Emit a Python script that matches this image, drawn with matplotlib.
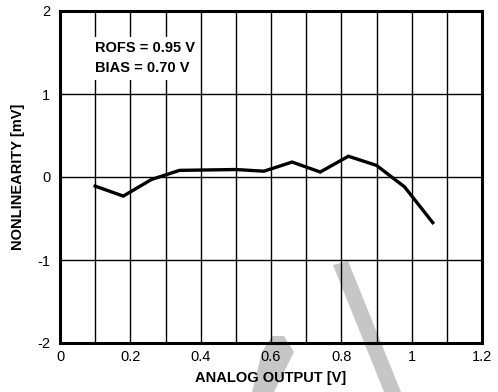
import numpy as np
import matplotlib.pyplot as plt
from matplotlib.patches import Polygon

plt.rcParams['font.family'] = ['Liberation Sans', 'DejaVu Sans']
plt.rcParams['axes.unicode_minus'] = False

# data
analog_out = [0.10, 0.18, 0.26, 0.34, 0.42, 0.50, 0.58, 0.66, 0.74, 0.82, 0.90, 0.98, 1.06]
nonlin_mv = [-0.11, -0.23, -0.03, 0.08, 0.085, 0.09, 0.07, 0.18, 0.06, 0.25, 0.14, -0.12, -0.55]
x_ticks = [0, 0.2, 0.4, 0.6, 0.8, 1.0, 1.2]
x_tick_labels = ['0', '0.2', '0.4', '0.6', '0.8', '1', '1.2']
y_ticks = [-2, -1, 0, 1, 2]

W, H = 498, 392
fig = plt.figure(figsize=(W / 100, H / 100), dpi=100, facecolor='white')
ax = fig.add_axes([60 / W, 1 - 343 / H, 422 / W, 332 / H])
ax.set_facecolor('none')


def px(pts):
    # pixel coords (from top-left) -> figure fraction
    return [(x / W, 1 - y / H) for x, y in pts]


# grey watermark strokes, drawn on the figure behind the (transparent) axes
wm_color = '#c6c6c6'
for pts in ([(333, 265), (348, 261), (401, 392), (384, 392)],
            [(272, 336), (284, 336), (294, 352), (274, 392), (252, 392), (262, 352)]):
    fig.patches.append(Polygon(px(pts), closed=True, transform=fig.transFigure,
                               facecolor=wm_color, edgecolor='none', zorder=-1))

ax.plot(analog_out, nonlin_mv, color='black', lw=2.4, zorder=3, solid_joinstyle='miter')

ax.set_xlim(0, 1.2)
ax.set_ylim(-2, 2)
ax.set_xticks(x_ticks)
ax.set_xticklabels(x_tick_labels)
ax.set_yticks(y_ticks)
ax.set_xticks(np.arange(0.1, 1.2, 0.1), minor=True)
ax.grid(True, which='both', color='black', lw=1.0)
ax.tick_params(which='both', length=0, labelsize=10.5, colors='black')
ax.tick_params(axis='x', pad=5)
ax.tick_params(axis='y', pad=7)
for s in ax.spines.values():
    s.set_linewidth(2.2)
    s.set_zorder(4)

ax.set_xlabel('ANALOG OUTPUT [V]', fontsize=10.5, fontweight='bold', labelpad=5)
ax.set_ylabel('NONLINEARITY [mV]', fontsize=10.5, fontweight='bold', labelpad=9)

ax.text(0.1, 1.43, 'ROFS = 0.95 V\nBIAS = 0.70 V', fontsize=10.5, fontweight='bold',
        ha='left', va='center', linespacing=1.55, zorder=5,
        bbox=dict(facecolor='white', edgecolor='none', pad=3))

fig.savefig('out.png', dpi=100)
